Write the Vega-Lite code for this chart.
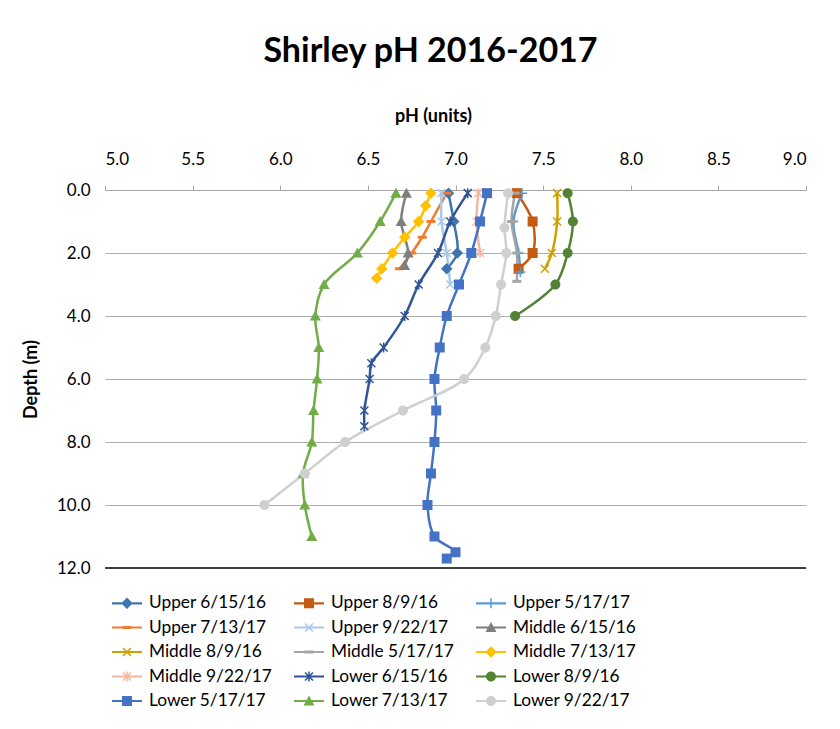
{
  "$schema": "https://vega.github.io/schema/vega-lite/v6.json",
  "width": 701,
  "height": 378,
  "padding": {"left": 22, "top": 35, "right": 5, "bottom": 5},
  "background": "white",
  "title": {"text": "Shirley pH 2016-2017", "font": "Lato", "fontSize": 34, "fontWeight": "bold", "color": "black", "anchor": "middle", "frame": "group", "dx": -25, "offset": 38},
  "config": {
    "view": {"stroke": null},
    "legend": {"orient": "bottom", "direction": "horizontal", "columns": 3, "symbolSize": 400, "symbolStrokeWidth": 0, "labelFont": "Lato", "labelFontSize": 17.3, "labelColor": "black", "rowPadding": 5.5, "columnPadding": 22, "labelOffset": 12, "offset": 13, "padding": 12, "symbolOpacity": 1}
  },
  "data": {"values": [
    {"s": "Upper 6/15/16", "d": 0.1, "p": 6.96}, {"s": "Upper 6/15/16", "d": 1.0, "p": 6.99}, {"s": "Upper 6/15/16", "d": 2.0, "p": 7.01}, {"s": "Upper 6/15/16", "d": 2.5, "p": 6.95},
    {"s": "Upper 8/9/16", "d": 0.1, "p": 7.35}, {"s": "Upper 8/9/16", "d": 1.0, "p": 7.44}, {"s": "Upper 8/9/16", "d": 2.0, "p": 7.44}, {"s": "Upper 8/9/16", "d": 2.5, "p": 7.36},
    {"s": "Upper 5/17/17", "d": 0.1, "p": 7.38}, {"s": "Upper 5/17/17", "d": 1.0, "p": 7.33}, {"s": "Upper 5/17/17", "d": 2.0, "p": 7.36}, {"s": "Upper 5/17/17", "d": 2.6, "p": 7.37},
    {"s": "Upper 7/13/17", "d": 0.1, "p": 6.95}, {"s": "Upper 7/13/17", "d": 1.0, "p": 6.86}, {"s": "Upper 7/13/17", "d": 1.5, "p": 6.81}, {"s": "Upper 7/13/17", "d": 2.0, "p": 6.75}, {"s": "Upper 7/13/17", "d": 2.5, "p": 6.68},
    {"s": "Upper 9/22/17", "d": 0.1, "p": 6.92}, {"s": "Upper 9/22/17", "d": 1.0, "p": 6.92}, {"s": "Upper 9/22/17", "d": 2.0, "p": 6.95}, {"s": "Upper 9/22/17", "d": 3.0, "p": 6.97},
    {"s": "Middle 6/15/16", "d": 0.1, "p": 6.72}, {"s": "Middle 6/15/16", "d": 1.0, "p": 6.69}, {"s": "Middle 6/15/16", "d": 2.0, "p": 6.73}, {"s": "Middle 6/15/16", "d": 2.4, "p": 6.71},
    {"s": "Middle 8/9/16", "d": 0.1, "p": 7.58}, {"s": "Middle 8/9/16", "d": 1.0, "p": 7.58}, {"s": "Middle 8/9/16", "d": 2.0, "p": 7.55}, {"s": "Middle 8/9/16", "d": 2.5, "p": 7.51},
    {"s": "Middle 5/17/17", "d": 0.1, "p": 7.34}, {"s": "Middle 5/17/17", "d": 1.0, "p": 7.32}, {"s": "Middle 5/17/17", "d": 2.0, "p": 7.35}, {"s": "Middle 5/17/17", "d": 2.9, "p": 7.35},
    {"s": "Middle 7/13/17", "d": 0.1, "p": 6.86}, {"s": "Middle 7/13/17", "d": 0.5, "p": 6.83}, {"s": "Middle 7/13/17", "d": 1.0, "p": 6.79}, {"s": "Middle 7/13/17", "d": 1.5, "p": 6.71}, {"s": "Middle 7/13/17", "d": 2.0, "p": 6.64}, {"s": "Middle 7/13/17", "d": 2.5, "p": 6.58}, {"s": "Middle 7/13/17", "d": 2.8, "p": 6.55},
    {"s": "Middle 9/22/17", "d": 0.1, "p": 7.13}, {"s": "Middle 9/22/17", "d": 1.0, "p": 7.12}, {"s": "Middle 9/22/17", "d": 2.0, "p": 7.14},
    {"s": "Lower 6/15/16", "d": 0.1, "p": 7.07}, {"s": "Lower 6/15/16", "d": 1.0, "p": 6.97}, {"s": "Lower 6/15/16", "d": 2.0, "p": 6.90}, {"s": "Lower 6/15/16", "d": 3.0, "p": 6.79}, {"s": "Lower 6/15/16", "d": 4.0, "p": 6.71}, {"s": "Lower 6/15/16", "d": 5.0, "p": 6.59}, {"s": "Lower 6/15/16", "d": 5.5, "p": 6.52}, {"s": "Lower 6/15/16", "d": 6.0, "p": 6.51}, {"s": "Lower 6/15/16", "d": 7.0, "p": 6.48}, {"s": "Lower 6/15/16", "d": 7.5, "p": 6.48},
    {"s": "Lower 8/9/16", "d": 0.1, "p": 7.64}, {"s": "Lower 8/9/16", "d": 1.0, "p": 7.67}, {"s": "Lower 8/9/16", "d": 2.0, "p": 7.64}, {"s": "Lower 8/9/16", "d": 3.0, "p": 7.57}, {"s": "Lower 8/9/16", "d": 4.0, "p": 7.34},
    {"s": "Lower 5/17/17", "d": 0.1, "p": 7.18}, {"s": "Lower 5/17/17", "d": 1.0, "p": 7.14}, {"s": "Lower 5/17/17", "d": 2.0, "p": 7.09}, {"s": "Lower 5/17/17", "d": 3.0, "p": 7.02}, {"s": "Lower 5/17/17", "d": 4.0, "p": 6.95}, {"s": "Lower 5/17/17", "d": 5.0, "p": 6.91}, {"s": "Lower 5/17/17", "d": 6.0, "p": 6.88}, {"s": "Lower 5/17/17", "d": 7.0, "p": 6.89}, {"s": "Lower 5/17/17", "d": 8.0, "p": 6.88}, {"s": "Lower 5/17/17", "d": 9.0, "p": 6.86}, {"s": "Lower 5/17/17", "d": 10.0, "p": 6.84}, {"s": "Lower 5/17/17", "d": 11.0, "p": 6.88}, {"s": "Lower 5/17/17", "d": 11.5, "p": 7.00}, {"s": "Lower 5/17/17", "d": 11.7, "p": 6.95},
    {"s": "Lower 7/13/17", "d": 0.1, "p": 6.66}, {"s": "Lower 7/13/17", "d": 1.0, "p": 6.57}, {"s": "Lower 7/13/17", "d": 2.0, "p": 6.44}, {"s": "Lower 7/13/17", "d": 3.0, "p": 6.25}, {"s": "Lower 7/13/17", "d": 4.0, "p": 6.20}, {"s": "Lower 7/13/17", "d": 5.0, "p": 6.22}, {"s": "Lower 7/13/17", "d": 6.0, "p": 6.21}, {"s": "Lower 7/13/17", "d": 7.0, "p": 6.19}, {"s": "Lower 7/13/17", "d": 8.0, "p": 6.18}, {"s": "Lower 7/13/17", "d": 9.0, "p": 6.13}, {"s": "Lower 7/13/17", "d": 10.0, "p": 6.14}, {"s": "Lower 7/13/17", "d": 11.0, "p": 6.18},
    {"s": "Lower 9/22/17", "d": 0.1, "p": 7.30}, {"s": "Lower 9/22/17", "d": 1.2, "p": 7.28}, {"s": "Lower 9/22/17", "d": 2.0, "p": 7.29}, {"s": "Lower 9/22/17", "d": 3.0, "p": 7.26}, {"s": "Lower 9/22/17", "d": 4.0, "p": 7.23}, {"s": "Lower 9/22/17", "d": 5.0, "p": 7.17}, {"s": "Lower 9/22/17", "d": 6.0, "p": 7.05}, {"s": "Lower 9/22/17", "d": 7.0, "p": 6.70}, {"s": "Lower 9/22/17", "d": 8.0, "p": 6.37}, {"s": "Lower 9/22/17", "d": 9.0, "p": 6.14}, {"s": "Lower 9/22/17", "d": 10.0, "p": 5.91}
  ]},
  "encoding": {
    "x": {"field": "p", "type": "quantitative", "scale": {"domain": [5, 9], "nice": false, "zero": false},
      "axis": {"orient": "top", "values": [5, 5.5, 6, 6.5, 7, 7.5, 8, 8.5, 9], "format": ".1f", "title": "pH (units)", "titleFont": "Lato", "titleFontSize": 18, "titleFontWeight": "bold", "titleColor": "black", "labelFont": "Lato", "labelFontSize": 17, "labelColor": "black", "grid": false, "domainColor": "#A6A6A6", "tickColor": "#A6A6A6", "tickSize": 5, "labelPadding": 17, "titlePadding": 25, "titleX": 328}},
    "y": {"field": "d", "type": "quantitative", "scale": {"domain": [0, 12], "reverse": true, "nice": false},
      "axis": {"values": [0, 2, 4, 6, 8, 10, 12], "format": ".1f", "title": "Depth (m)", "titleFont": "Lato", "titleFontSize": 18, "titleFontWeight": "bold", "titleColor": "black", "labelFont": "Lato", "labelFontSize": 17, "labelColor": "black", "grid": true, "gridColor": "#ADADAD", "domain": false, "ticks": false, "labelPadding": 15, "titlePadding": 16}}
  },
  "layer": [
    {
      "mark": {"type": "rule", "color": "#404040", "strokeWidth": 1.5},
      "encoding": {"y": {"datum": 12}, "x": null}
    },
    {
      "mark": {"type": "line", "interpolate": "catmull-rom", "strokeWidth": 2.5},
      "encoding": {
        "color": {"field": "s", "type": "nominal", "legend": null,
          "scale": {"domain": ["Upper 6/15/16", "Upper 8/9/16", "Upper 5/17/17", "Upper 7/13/17", "Upper 9/22/17", "Middle 6/15/16", "Middle 8/9/16", "Middle 5/17/17", "Middle 7/13/17", "Middle 9/22/17", "Lower 6/15/16", "Lower 8/9/16", "Lower 5/17/17", "Lower 7/13/17", "Lower 9/22/17"],
            "range": ["#3F75AE", "#C55A11", "#5B9BD5", "#ED7D31", "#A9C8EA", "#7F7F7F", "#CFA000", "#A5A5A5", "#FFC000", "#F4B8A2", "#2F5597", "#548235", "#4472C4", "#70AD47", "#CFCFCF"]}},
        "order": {"field": "d", "type": "quantitative"}
      }
    },
    {
      "mark": {"type": "point", "filled": true, "opacity": 1, "size": 100, "strokeWidth": 0},
      "encoding": {
        "color": {"field": "s", "type": "nominal", "legend": null},
        "shape": {"field": "s", "type": "nominal", "legend": null,
          "scale": {"domain": ["Upper 6/15/16", "Upper 8/9/16", "Upper 5/17/17", "Upper 7/13/17", "Upper 9/22/17", "Middle 6/15/16", "Middle 8/9/16", "Middle 5/17/17", "Middle 7/13/17", "Middle 9/22/17", "Lower 6/15/16", "Lower 8/9/16", "Lower 5/17/17", "Lower 7/13/17", "Lower 9/22/17"],
            "range": [
              "M0,-1.15L1.15,0L0,1.15L-1.15,0Z",
              "M-1,-1L1,-1L1,1L-1,1Z",
              "M-1,-0.15L1,-0.15L1,0.15L-1,0.15ZM-0.15,-1L0.15,-1L0.15,1L-0.15,1Z",
              "M-0.9,-0.3L0.9,-0.3L0.9,0.3L-0.9,0.3Z",
              "M-0.69,-0.91L0.91,0.69L0.69,0.91L-0.91,-0.69ZM-0.91,0.69L0.69,-0.91L0.91,-0.69L-0.69,0.91Z",
              "M0,-1.1L1.1,0.9L-1.1,0.9Z",
              "M-0.69,-0.91L0.91,0.69L0.69,0.91L-0.91,-0.69ZM-0.91,0.69L0.69,-0.91L0.91,-0.69L-0.69,0.91Z",
              "M-0.9,-0.3L0.9,-0.3L0.9,0.3L-0.9,0.3Z",
              "M0,-1.15L1.15,0L0,1.15L-1.15,0Z",
              "M-0.69,-0.91L0.91,0.69L0.69,0.91L-0.91,-0.69ZM-0.91,0.69L0.69,-0.91L0.91,-0.69L-0.69,0.91ZM-0.15,-1L0.15,-1L0.15,1L-0.15,1Z",
              "M-0.69,-0.91L0.91,0.69L0.69,0.91L-0.91,-0.69ZM-0.91,0.69L0.69,-0.91L0.91,-0.69L-0.69,0.91ZM-0.15,-1L0.15,-1L0.15,1L-0.15,1Z",
              "M-1,0A1,1 0 1,1 1,0A1,1 0 1,1 -1,0Z",
              "M-1,-1L1,-1L1,1L-1,1Z",
              "M0,-1.1L1.1,0.9L-1.1,0.9Z",
              "M-1,0A1,1 0 1,1 1,0A1,1 0 1,1 -1,0Z"
            ]}}
      }
    },
    {
      "transform": [{"filter": "false"}],
      "mark": {"type": "point", "filled": true, "opacity": 1, "strokeWidth": 0},
      "encoding": {
        "color": {"field": "s", "type": "nominal", "legend": {"title": null}},
        "shape": {"field": "s", "type": "nominal", "legend": {"title": null},
          "scale": {"domain": ["Upper 6/15/16", "Upper 8/9/16", "Upper 5/17/17", "Upper 7/13/17", "Upper 9/22/17", "Middle 6/15/16", "Middle 8/9/16", "Middle 5/17/17", "Middle 7/13/17", "Middle 9/22/17", "Lower 6/15/16", "Lower 8/9/16", "Lower 5/17/17", "Lower 7/13/17", "Lower 9/22/17"],
            "range": [
              "M-1.5,-0.11L1.5,-0.11L1.5,0.11L-1.5,0.11ZM0,-0.575L0.575,0L0,0.575L-0.575,0Z",
              "M-1.5,-0.11L1.5,-0.11L1.5,0.11L-1.5,0.11ZM-0.5,-0.5L0.5,-0.5L0.5,0.5L-0.5,0.5Z",
              "M-1.5,-0.11L1.5,-0.11L1.5,0.11L-1.5,0.11ZM-0.5,-0.075L0.5,-0.075L0.5,0.075L-0.5,0.075ZM-0.075,-0.5L0.075,-0.5L0.075,0.5L-0.075,0.5Z",
              "M-1.5,-0.11L1.5,-0.11L1.5,0.11L-1.5,0.11ZM-0.45,-0.15L0.45,-0.15L0.45,0.15L-0.45,0.15Z",
              "M-1.5,-0.11L1.5,-0.11L1.5,0.11L-1.5,0.11ZM-0.345,-0.455L0.455,0.345L0.345,0.455L-0.455,-0.345ZM-0.455,0.345L0.345,-0.455L0.455,-0.345L-0.345,0.455Z",
              "M-1.5,-0.11L1.5,-0.11L1.5,0.11L-1.5,0.11ZM0,-0.55L0.55,0.45L-0.55,0.45Z",
              "M-1.5,-0.11L1.5,-0.11L1.5,0.11L-1.5,0.11ZM-0.345,-0.455L0.455,0.345L0.345,0.455L-0.455,-0.345ZM-0.455,0.345L0.345,-0.455L0.455,-0.345L-0.345,0.455Z",
              "M-1.5,-0.11L1.5,-0.11L1.5,0.11L-1.5,0.11ZM-0.45,-0.15L0.45,-0.15L0.45,0.15L-0.45,0.15Z",
              "M-1.5,-0.11L1.5,-0.11L1.5,0.11L-1.5,0.11ZM0,-0.575L0.575,0L0,0.575L-0.575,0Z",
              "M-1.5,-0.11L1.5,-0.11L1.5,0.11L-1.5,0.11ZM-0.345,-0.455L0.455,0.345L0.345,0.455L-0.455,-0.345ZM-0.455,0.345L0.345,-0.455L0.455,-0.345L-0.345,0.455ZM-0.075,-0.5L0.075,-0.5L0.075,0.5L-0.075,0.5Z",
              "M-1.5,-0.11L1.5,-0.11L1.5,0.11L-1.5,0.11ZM-0.345,-0.455L0.455,0.345L0.345,0.455L-0.455,-0.345ZM-0.455,0.345L0.345,-0.455L0.455,-0.345L-0.345,0.455ZM-0.075,-0.5L0.075,-0.5L0.075,0.5L-0.075,0.5Z",
              "M-1.5,-0.11L1.5,-0.11L1.5,0.11L-1.5,0.11ZM-0.5,0A0.5,0.5 0 1,1 0.5,0A0.5,0.5 0 1,1 -0.5,0Z",
              "M-1.5,-0.11L1.5,-0.11L1.5,0.11L-1.5,0.11ZM-0.5,-0.5L0.5,-0.5L0.5,0.5L-0.5,0.5Z",
              "M-1.5,-0.11L1.5,-0.11L1.5,0.11L-1.5,0.11ZM0,-0.55L0.55,0.45L-0.55,0.45Z",
              "M-1.5,-0.11L1.5,-0.11L1.5,0.11L-1.5,0.11ZM-0.5,0A0.5,0.5 0 1,1 0.5,0A0.5,0.5 0 1,1 -0.5,0Z"
            ]}}
      }
    }
  ],
  "resolve": {"scale": {"shape": "independent"}, "legend": {"color": "independent", "shape": "independent"}}
}
